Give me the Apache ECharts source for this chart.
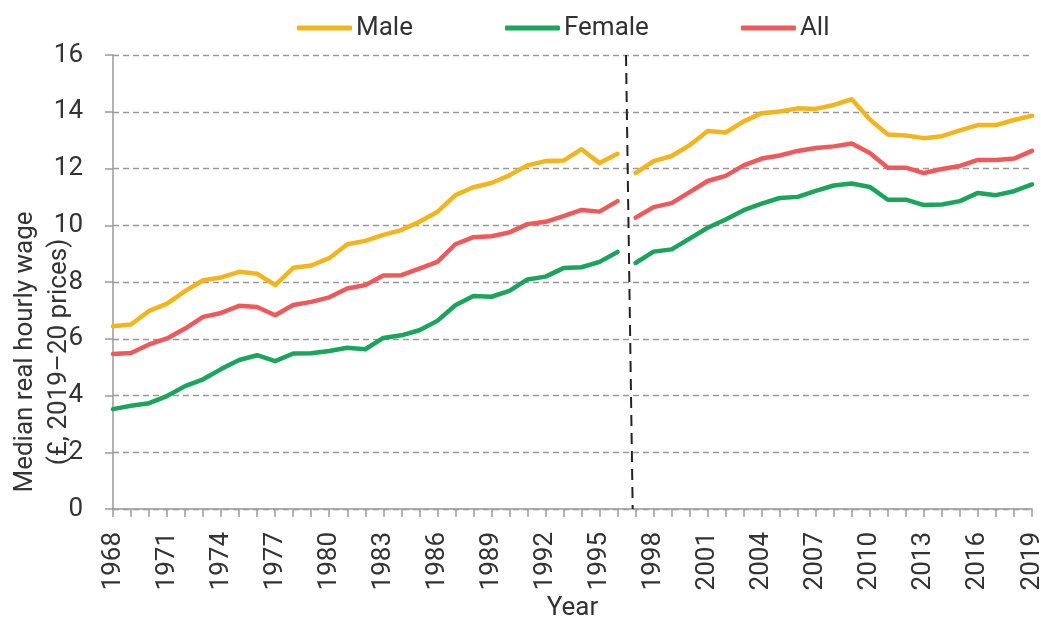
<!DOCTYPE html>
<html>
<head>
<meta charset="utf-8">
<script src="https://cdn.jsdelivr.net/npm/echarts@6/dist/echarts.min.js"></script>
<style>
  html, body { margin: 0; padding: 0; background: #fff; }
  #chart { width: 1041px; height: 620px; }
</style>
</head>
<body>
<div id="chart"></div>
<script>
// Median real hourly wage by sex, 1968–2019 (£, 2019–20 prices)
const firstYear = 1968;
const lastYear = 2019;
const breakAfterYear = 1996;   // series break between 1996 and 1997
const breakLineTop = 1996.47;  // position of the dashed break marker at the top of the plot
const breakLineBottom = 1996.84;

const male = [
  6.44, 6.50, 6.98, 7.24, 7.68, 8.06, 8.16, 8.36, 8.29, 7.89,
  8.50, 8.58, 8.84, 9.33, 9.45, 9.66, 9.83, 10.12, 10.47, 11.06,
  11.34, 11.49, 11.76, 12.11, 12.26, 12.28, 12.68, 12.19, 12.52,
  11.84, 12.26, 12.44, 12.82, 13.32, 13.27, 13.66, 13.95, 14.01, 14.12,
  14.10, 14.24, 14.44, 13.73, 13.20, 13.16, 13.07, 13.14, 13.34, 13.53,
  13.53, 13.71, 13.86
];
const female = [
  3.52, 3.64, 3.73, 3.98, 4.33, 4.57, 4.93, 5.25, 5.42, 5.21,
  5.48, 5.49, 5.57, 5.68, 5.63, 6.03, 6.12, 6.30, 6.63, 7.18,
  7.51, 7.48, 7.69, 8.09, 8.19, 8.49, 8.52, 8.71, 9.06,
  8.67, 9.07, 9.15, 9.53, 9.91, 10.20, 10.53, 10.76, 10.96, 11.00,
  11.21, 11.40, 11.47, 11.35, 10.90, 10.90, 10.71, 10.73, 10.85, 11.14,
  11.06, 11.20, 11.44
];
const all = [
  5.46, 5.50, 5.80, 6.01, 6.36, 6.77, 6.91, 7.16, 7.12, 6.83,
  7.19, 7.30, 7.46, 7.77, 7.89, 8.23, 8.24, 8.47, 8.71, 9.33,
  9.58, 9.61, 9.75, 10.04, 10.12, 10.32, 10.54, 10.48, 10.85,
  10.27, 10.64, 10.78, 11.17, 11.56, 11.74, 12.11, 12.35, 12.46, 12.62,
  12.72, 12.78, 12.88, 12.55, 12.03, 12.03, 11.84, 11.98, 12.09, 12.30,
  12.30, 12.35, 12.62
];

const seriesNames = ['Male', 'Female', 'All'];
const seriesValues = [male, female, all];
const seriesColors = ['#F3B51E', '#1BA45C', '#EE5A5B'];

const FONT = 'Roboto, "Open Sans", sans-serif';
const TEXT = '#333333';

// Split each series into the two periods either side of the break
function segment(values, fromYear, toYear) {
  const out = [];
  for (let y = fromYear; y <= toYear; y++) {
    out.push([y, values[y - firstYear]]);
  }
  return out;
}

const series = [];
seriesNames.forEach((name, i) => {
  const base = {
    name: name,
    type: 'line',
    symbol: 'none',
    smooth: false,
    color: seriesColors[i],
    lineStyle: { width: 4.5, color: seriesColors[i], join: 'round', cap: 'round' },
    emphasis: { disabled: true }
  };
  series.push(Object.assign({}, base, { data: segment(seriesValues[i], firstYear, breakAfterYear) }));
  series.push(Object.assign({}, base, { data: segment(seriesValues[i], breakAfterYear + 1, lastYear) }));
});

// Dashed marker at the series break
series[0].markLine = {
  silent: true,
  symbol: 'none',
  label: { show: false },
  lineStyle: { color: '#222222', width: 2, type: [11, 7] },
  data: [[{ coord: [breakLineTop, 16] }, { coord: [breakLineBottom, 0] }]]
};

const chart = echarts.init(document.getElementById('chart'), null, { renderer: 'canvas' });
chart.setOption({
  animation: false,
  backgroundColor: '#ffffff',
  textStyle: { fontFamily: FONT, color: TEXT },
  legend: {
    data: seriesNames.map(n => ({ name: n, icon: 'roundRect' })),
    left: 292,
    top: 10,
    itemWidth: 55,
    itemHeight: 5,
    itemGap: 92,
    textStyle: { fontFamily: FONT, fontSize: 26, color: TEXT, padding: [0, 0, 0, -1] }
  },
  grid: {
    left: 113,
    right: 9,
    top: 55,
    bottom: 111,
    containLabel: false,
    outerBoundsMode: 'none'
  },
  xAxis: {
    type: 'value',
    min: firstYear,
    max: lastYear,
    interval: 1,
    name: 'Year',
    nameLocation: 'middle',
    nameGap: 86,
    nameMoveOverlap: false,
    nameTextStyle: { fontFamily: FONT, fontSize: 26, color: TEXT },
    axisLine: { show: true, onZero: false, lineStyle: { color: '#9a9a9a', width: 1.5 } },
    axisTick: { show: true, length: 8, lineStyle: { color: '#9a9a9a', width: 1.5 } },
    splitLine: { show: false },
    axisLabel: {
      rotate: 90,
      margin: 23,
      fontFamily: FONT,
      fontSize: 26,
      color: TEXT,
      formatter: v => ((v - firstYear) % 3 === 0 ? String(v) : '')
    }
  },
  yAxis: {
    type: 'value',
    min: 0,
    max: 16,
    interval: 2,
    axisLine: { show: true, lineStyle: { color: '#9a9a9a', width: 1.5 } },
    axisTick: { show: true, length: 8, lineStyle: { color: '#9a9a9a', width: 1.5 } },
    splitLine: { show: true, lineStyle: { color: '#999999', width: 1.3, type: [6, 4] } },
    axisLabel: { margin: 30, fontFamily: FONT, fontSize: 26, color: TEXT }
  },
  graphic: [{
    type: 'text',
    x: 42,
    y: 352,
    rotation: Math.PI / 2,
    silent: true,
    style: {
      text: 'Median real hourly wage\n(£, 2019–20 prices)',
      fontFamily: FONT,
      fontSize: 26,
      lineHeight: 34,
      fill: TEXT,
      align: 'center',
      verticalAlign: 'middle'
    }
  }],
  series: series
});
</script>
</body>
</html>
